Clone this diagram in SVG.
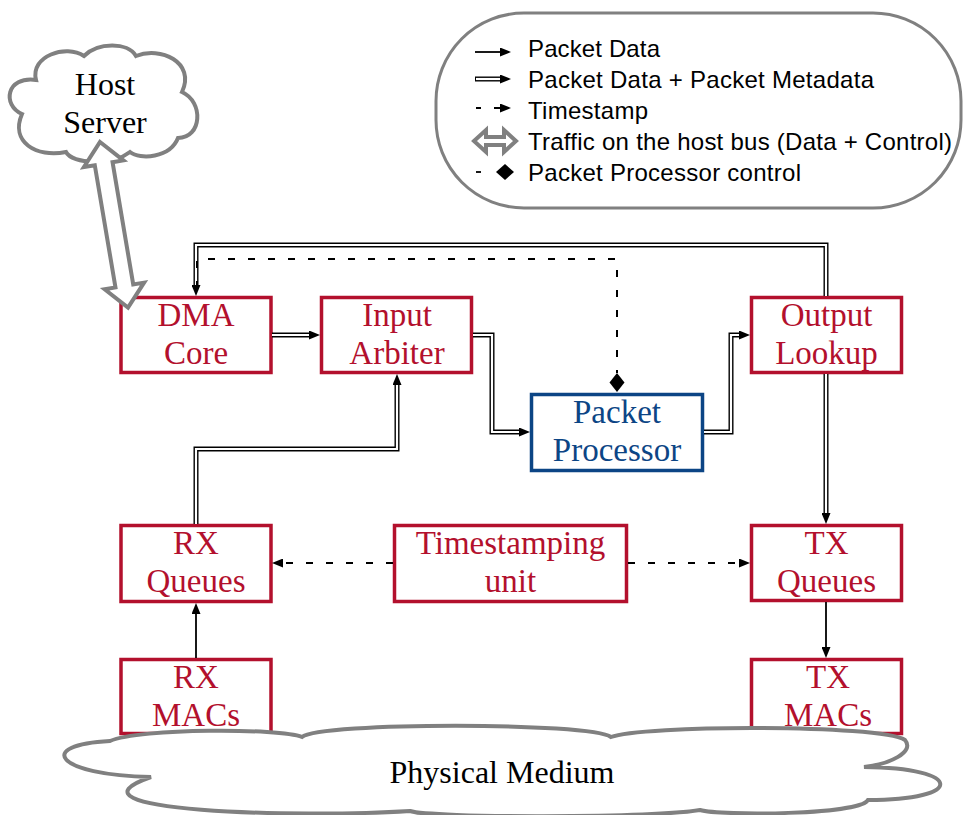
<svg xmlns="http://www.w3.org/2000/svg" width="964" height="815" viewBox="0 0 964 815">
<defs>
<style>
.box{fill:#fff;stroke:#b3102d;stroke-width:3.5}
.pbox{fill:#fff;stroke:#0c4585;stroke-width:3.5}
.bt{font-family:"Liberation Serif","Times New Roman",serif;font-size:33px;fill:#b3102d;text-anchor:middle}
.pt{font-family:"Liberation Serif","Times New Roman",serif;font-size:33px;fill:#0c4585;text-anchor:middle}
.ct{font-family:"Liberation Serif","Times New Roman",serif;font-size:32px;fill:#000;text-anchor:middle}
.lt{font-family:"Liberation Sans",Arial,sans-serif;font-size:24px;fill:#000}
.cloud{fill:#fff;stroke:#808080;stroke-width:4}
.dbo{fill:none;stroke:#000;stroke-width:5}
.dbi{fill:none;stroke:#fff;stroke-width:2.2}
.sl{fill:none;stroke:#000;stroke-width:1.8}
.ds{fill:none;stroke:#000;stroke-width:2;stroke-dasharray:7 13}
.hb{fill:#fff;stroke:#808080;stroke-width:4;stroke-linejoin:miter}
</style>
<marker id="ah" viewBox="0 0 11 9" refX="0" refY="4.5" markerWidth="11" markerHeight="9" markerUnits="userSpaceOnUse" orient="auto">
<path d="M0,0 L11,4.5 L0,9 Z" fill="#000"/>
</marker>
</defs>
<rect width="964" height="815" fill="#fff"/>

<g id="legend">
<rect x="436" y="13" width="525" height="195" rx="88" ry="88" fill="#fff" stroke="#808080" stroke-width="3"/>
<path class="sl" d="M475,52 H500" marker-end="url(#ah)"/>
<path class="dbo" d="M475,79 H500" marker-end="url(#ah)"/>
<path class="dbi" d="M476,79 H500"/>
<path class="sl" d="M476,108 H481 M494,108 H500" marker-end="url(#ah)"/>
<polygon class="hb" points="474,141 486,130 486,137 504,137 504,130 516,141 504,152 504,145 486,145 486,152" stroke-width="3"/>
<path class="sl" d="M476,172 H481"/>
<polygon points="496,172 505,164 514,172 505,180" fill="#000"/>
<text class="lt" x="528" y="57" textLength="132">Packet Data</text>
<text class="lt" x="528" y="88" textLength="346">Packet Data + Packet Metadata</text>
<text class="lt" x="528" y="119" textLength="120">Timestamp</text>
<text class="lt" x="528" y="150" textLength="424">Traffic on the host bus (Data + Control)</text>
<text class="lt" x="528" y="181" textLength="273">Packet Processor control</text>
</g>

<g id="host-server">
<path class="cloud" d="M22,114 C2,105 6,76 36,80 C30,56 66,44 84,56 C98,42 128,42 136,56 C160,46 196,62 182,92 C204,102 202,138 178,138 C170,158 140,160 130,152 C112,166 72,164 66,152 C36,158 10,142 22,114 Z"/>
<text class="ct" x="105" y="95">Host</text>
<text class="ct" x="105" y="133">Server</text>
</g>

<g id="dma-core">
<rect class="box" x="121" y="297.5" width="150" height="75"/>
<text class="bt" x="196" y="325.5">DMA</text>
<text class="bt" x="196" y="363.5">Core</text>
</g>
<g id="input-arbiter">
<rect class="box" x="321.5" y="297.5" width="150" height="75"/>
<text class="bt" x="397" y="325.5">Input</text>
<text class="bt" x="397" y="363.5">Arbiter</text>
</g>
<g id="packet-processor">
<rect class="pbox" x="531.5" y="394.5" width="171" height="76"/>
<text class="pt" x="617" y="422.5">Packet</text>
<text class="pt" x="617" y="460.5">Processor</text>
</g>
<g id="output-lookup">
<rect class="box" x="751.5" y="297.5" width="150" height="75"/>
<text class="bt" x="826.5" y="325.5">Output</text>
<text class="bt" x="826.5" y="363.5">Lookup</text>
</g>
<g id="rx-queues">
<rect class="box" x="121" y="525.5" width="150" height="76"/>
<text class="bt" x="196" y="553.5">RX</text>
<text class="bt" x="196" y="591.5">Queues</text>
</g>
<g id="timestamping-unit">
<rect class="box" x="394.5" y="525.5" width="232" height="76"/>
<text class="bt" x="510.5" y="553.5">Timestamping</text>
<text class="bt" x="510.5" y="591.5">unit</text>
</g>
<g id="tx-queues">
<rect class="box" x="751.5" y="525.5" width="150" height="75"/>
<text class="bt" x="826.5" y="553.5">TX</text>
<text class="bt" x="826.5" y="591.5">Queues</text>
</g>
<g id="rx-macs">
<rect class="box" x="121" y="659.5" width="150" height="74"/>
<text class="bt" x="196" y="687.5">RX</text>
<text class="bt" x="196" y="725.5">MACs</text>
</g>
<g id="tx-macs">
<rect class="box" x="751.5" y="659.5" width="150" height="74"/>
<text class="bt" x="828" y="687.5">TX</text>
<text class="bt" x="828" y="725.5">MACs</text>
</g>

<g id="connectors">
<path class="dbo" d="M272,335 H309" marker-end="url(#ah)"/>
<path class="dbi" d="M272,335 H309"/>
<path class="dbo" d="M473,335 H492 V432 H519" marker-end="url(#ah)"/>
<path class="dbi" d="M473,335 H492 V432 H519"/>
<path class="dbo" d="M704,432 H731 V335 H739" marker-end="url(#ah)"/>
<path class="dbi" d="M704,432 H731 V335 H739"/>
<path class="dbo" d="M826,296 V245 H196 V285" marker-end="url(#ah)"/>
<path class="dbi" d="M826,296 V245 H196 V285"/>
<path class="dbo" d="M826,374 V513" marker-end="url(#ah)"/>
<path class="dbi" d="M826,374 V513"/>
<path class="dbo" d="M196,524 V449 H397 V385" marker-end="url(#ah)"/>
<path class="dbi" d="M196,524 V449 H397 V385"/>
<path class="ds" d="M393,563 H283" marker-end="url(#ah)"/>
<path class="ds" d="M628,563 H739" marker-end="url(#ah)"/>
<path class="sl" d="M196,658 V614" marker-end="url(#ah)"/>
<path class="sl" d="M826,602 V647" marker-end="url(#ah)"/>
<path class="ds" d="M197,288 V259 H617 V373"/>
<polygon points="617,373 624.5,382.5 617,392 609.5,382.5" fill="#000"/>
</g>

<g id="host-bus">
<polygon class="hb" transform="translate(100,142) rotate(80.4)" points="0,0 22,-20 22,-9 146,-9 146,-20 168,0 146,20 146,9 22,9 22,20"/>
</g>

<g id="physical-medium">
<path class="cloud" d="M151,777 C55,775 35,745 110,741 C140,728 280,728 302,737 C320,722 590,722 611,737 C640,725 880,724 905,740 C915,752 890,764 864,767 C965,768 965,800 868,800 C860,815 720,816 700,810 C650,818 430,818 410,811 C300,818 50,812 151,777 Z"/>
<text class="ct" x="502" y="783">Physical Medium</text>
</g>
</svg>
